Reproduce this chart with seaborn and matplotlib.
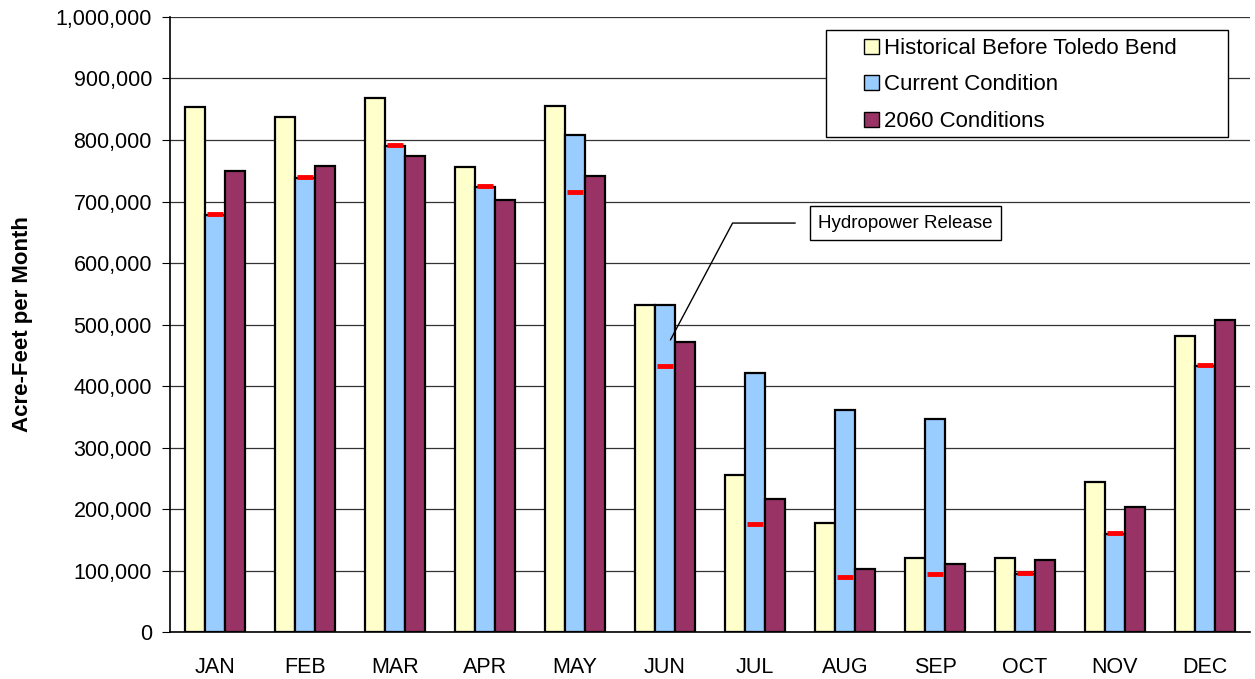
import matplotlib
matplotlib.use("Agg")
import matplotlib.pyplot as plt
import matplotlib.ticker as mticker
from matplotlib.patches import Rectangle
import seaborn as sns
import pandas as pd

# Monthly flows (acre-feet per month)
months = ['JAN', 'FEB', 'MAR', 'APR', 'MAY', 'JUN', 'JUL', 'AUG', 'SEP', 'OCT', 'NOV', 'DEC']
series = ['Historical Before Toledo Bend', 'Current Condition', '2060 Conditions']
historical = [853000, 837000, 869000, 756000, 856000, 532000, 256000, 178000, 120000, 120000, 244000, 481000]
current = [678000, 738000, 791000, 724000, 808000, 531000, 422000, 361000, 347000, 95000, 160000, 432000]
future_2060 = [750000, 757000, 774000, 703000, 742000, 471000, 216000, 103000, 110000, 118000, 204000, 508000]
hydropower = [680000, 740000, 792000, 725000, 716000, 433000, 176000, 90000, 95000, 96000, 161000, 434000]
colors = ['#FFFFCC', '#99CCFF', '#993366']

df = pd.DataFrame({
    'month': months * 3,
    'series': [series[0]] * 12 + [series[1]] * 12 + [series[2]] * 12,
    'value': historical + current + future_2060,
})

sns.set_style('white')
plt.rcParams['font.family'] = ['Liberation Sans', 'DejaVu Sans']
plt.rcParams.update({'text.color': 'black', 'axes.labelcolor': 'black',
                     'xtick.color': 'black', 'ytick.color': 'black'})

fig, ax = plt.subplots(figsize=(12.55, 6.79), dpi=100)
fig.subplots_adjust(left=0.1355, right=0.996, top=0.975, bottom=0.069)

sns.barplot(data=df, x='month', y='value', hue='series', order=months, hue_order=series,
            palette=colors, saturation=1, width=0.67, edgecolor='black', linewidth=1.6, ax=ax)

# red hydropower release marks on the current-condition bars
for p, v in zip(ax.containers[1], hydropower):
    x0, w = p.get_x(), p.get_width()
    ax.hlines(v, x0 + 0.12 * w, x0 + 0.88 * w, color='red', lw=3.5, zorder=5)

ax.set_ylim(0, 1000000)
ax.set_xlim(-0.5, 11.5)
ax.yaxis.set_major_locator(mticker.MultipleLocator(100000))
ax.yaxis.set_major_formatter(mticker.FuncFormatter(lambda v, _: f'{v:,.0f}'))
ax.yaxis.grid(True, color='#333333', lw=0.9)
ax.set_axisbelow(True)

ax.set_xticks(range(12))
ax.set_xticklabels(months)
ax.set_xticks([i - 0.5 for i in range(13)], minor=True)
ax.tick_params(axis='x', which='major', length=0, pad=18, labelsize=15.5)
ax.tick_params(axis='x', which='minor', length=7, color='black', direction='out')
ax.tick_params(axis='y', length=6, color='black', direction='out', labelsize=15.5,
               left=True, pad=7)

for s in ['top', 'right']:
    ax.spines[s].set_visible(False)
for s in ['left', 'bottom']:
    ax.spines[s].set_color('black')
    ax.spines[s].set_linewidth(1.2)

ax.set_xlabel('')
ax.set_ylabel('Acre-Feet per Month', fontsize=16, fontweight='bold')
ax.yaxis.set_label_coords(-0.127, 0.5)

# legend: Excel-style box wider than its contents
ax.add_patch(Rectangle((0.607, 0.805), 0.373, 0.174, transform=ax.transAxes,
                       fc='white', ec='black', lw=1, zorder=6))
leg = ax.legend(loc='upper left', bbox_to_anchor=(0.643, 0.966), fontsize=16,
                frameon=False, handlelength=0.65, handleheight=0.65, handletextpad=0.25,
                borderpad=0, labelspacing=0.7, borderaxespad=0)
leg.set_zorder(7)
for h in leg.legend_handles:
    h.set_linewidth(1)

ax.annotate('Hydropower Release', xy=(5.06, 475000), xytext=(7.67, 665000),
            ha='center', va='center', fontsize=13.5,
            bbox=dict(boxstyle='square,pad=0.45', fc='white', ec='black', lw=1),
            arrowprops=dict(arrowstyle='-', color='black', lw=1,
                            connectionstyle='angle,angleA=0,angleB=62,rad=0',
                            shrinkA=10, shrinkB=0))

fig.savefig('out.png', dpi=100)
